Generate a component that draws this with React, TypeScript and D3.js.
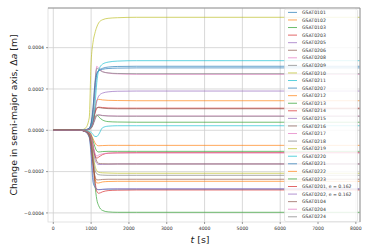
import { useEffect, useRef } from 'react';
import * as d3 from 'd3';

// sample times [s]
const times = [0, 700, 850, 950, 1000, 1050, 1100, 1150, 1200, 1300, 1450, 1700, 2200, 8110];

// satellite names in legend order
const names = [
  'GSAT0101', 'GSAT0102', 'GSAT0103', 'GSAT0203', 'GSAT0205', 'GSAT0206', 'GSAT0208',
  'GSAT0209', 'GSAT0210', 'GSAT0211', 'GSAT0207', 'GSAT0212', 'GSAT0213', 'GSAT0214',
  'GSAT0215', 'GSAT0216', 'GSAT0217', 'GSAT0218', 'GSAT0219', 'GSAT0220', 'GSAT0221',
  'GSAT0222', 'GSAT0223', 'GSAT0201, e = 0.162', 'GSAT0202, e = 0.162', 'GSAT0104',
  'GSAT0204', 'GSAT0224',
];

// delta a, in units of 1e-4 m, one row per satellite (same order as names)
const deltaA = [
  [0, 0, 0.02, 0.1, 0.3, 0.8, 1.8, 2.7, 2.9, 3.0, 3.06, 3.09, 3.1, 3.1],
  [0, 0, 0.02, 0.05, 0.15, 0.4, 1.0, 1.45, 1.5, 1.47, 1.45, 1.44, 1.43, 1.43],
  [0, 0, 0.02, 0.05, 0.1, 0.3, 0.6, 0.75, 0.65, 0.5, 0.42, 0.4, 0.39, 0.39],
  [0, 0, 0.02, 0.05, 0.12, 0.35, 0.8, 1.05, 1.12, 1.1, 1.08, 1.07, 1.07, 1.07],
  [0, 0, 0.02, 0.05, 0.15, 0.4, 0.9, 1.4, 1.65, 1.8, 1.86, 1.89, 1.9, 1.9],
  [0, 0, 0.02, 0.06, 0.15, 0.4, 0.85, 1.1, 1.1, 1.07, 1.05, 1.04, 1.04, 1.04],
  [0, 0, 0.03, 0.1, 0.3, 0.9, 2.0, 3.1, 3.0, 2.85, 2.77, 2.73, 2.71, 2.71],
  [0, 0, 0.03, 0.1, 0.3, 1.0, 2.3, 3.0, 2.95, 2.83, 2.78, 2.75, 2.74, 2.74],
  [0, 0, 0.1, 0.6, 3.3, 4.25, 4.7, 5.0, 5.2, 5.35, 5.42, 5.45, 5.47, 5.47],
  [0, 0, 0.02, 0.08, 0.2, 0.5, 1.2, 2.3, 2.9, 3.2, 3.3, 3.35, 3.37, 3.37],
  [0, 0, 0.02, 0.1, 0.35, 1.1, 2.2, 2.75, 2.88, 2.95, 2.99, 3.01, 3.02, 3.02],
  [0, 0, -0.03, -0.1, -0.2, -0.4, -0.6, -0.72, -0.75, -0.74, -0.73, -0.73, -0.73, -0.73],
  [0, 0, -0.03, -0.1, -0.25, -0.5, -0.8, -1.0, -1.05, -1.03, -1.02, -1.02, -1.02, -1.02],
  [0, 0, -0.05, -0.15, -0.35, -0.8, -1.2, -1.35, -1.3, -1.18, -1.11, -1.09, -1.08, -1.08],
  [0, 0, -0.05, -0.15, -0.4, -0.9, -1.4, -1.6, -1.66, -1.65, -1.64, -1.63, -1.63, -1.63],
  [0, 0, -0.04, -0.12, -0.3, -0.7, -1.2, -1.5, -1.6, -1.62, -1.63, -1.63, -1.63, -1.63],
  [0, 0, 0.02, 0.05, 0.12, 0.3, 0.55, 0.72, 0.75, 0.72, 0.7, 0.69, 0.69, 0.69],
  [0, 0, 0.02, 0.04, 0.1, 0.25, 0.5, 0.7, 0.74, 0.71, 0.69, 0.68, 0.68, 0.68],
  [0, 0, -0.05, -0.2, -0.5, -1.1, -1.7, -1.95, -2.03, -2.06, -2.07, -2.08, -2.08, -2.08],
  [0, 0, -0.02, -0.05, -0.1, -0.2, -0.3, -0.3, -0.2, 0.12, 0.2, 0.22, 0.22, 0.22],
  [0, 0, -0.08, -0.35, -1.2, -2.5, -2.75, -2.85, -2.87, -2.86, -2.85, -2.85, -2.85, -2.85],
  [0, 0, -0.05, -0.25, -0.7, -1.6, -2.3, -2.55, -2.55, -2.5, -2.48, -2.47, -2.47, -2.47],
  [0, 0, -0.05, -0.2, -0.6, -1.5, -2.6, -3.35, -3.65, -3.88, -3.95, -3.97, -3.97, -3.97],
  [0, 0, -0.05, -0.2, -0.6, -1.5, -2.4, -2.95, -3.05, -2.98, -2.92, -2.9, -2.89, -2.89],
  [0, 0, -0.08, -0.3, -1.0, -2.2, -2.7, -2.85, -2.88, -2.86, -2.84, -2.83, -2.83, -2.83],
  [0, 0, -0.05, -0.3, -0.8, -1.6, -2.2, -2.4, -2.4, -2.38, -2.37, -2.37, -2.37, -2.37],
  [0, 0, -0.04, -0.12, -0.3, -0.75, -1.1, -1.25, -1.2, -1.14, -1.11, -1.1, -1.1, -1.1],
  [0, 0, -0.05, -0.2, -0.6, -1.3, -1.9, -2.1, -2.15, -2.17, -2.18, -2.18, -2.18, -2.18],
];

const xTicks = [0, 1000, 2000, 3000, 4000, 5000, 6000, 7000, 8000];
const yTicks = [-0.0004, -0.0002, 0, 0.0002, 0.0004];

const colors = d3.schemeCategory10;
const font = 'DejaVu Sans, sans-serif';

function App() {
  const svgRef = useRef<SVGSVGElement>(null);
  const width = 366;
  const height = 252;
  const margin = { left: 48, right: 6, top: 8, bottom: 30 };

  useEffect(() => {
    if (svgRef.current === null) return;
    const svg = d3.select(svgRef.current);
    svg.selectAll('*').remove();

    const x = d3.scaleLinear().domain([-140, 8110]).range([margin.left, width - margin.right]);
    const y = d3.scaleLinear().domain([-0.000444, 0.000592]).range([height - margin.bottom, margin.top]);
    const [x0, x1] = x.range();
    const [y1, y0] = y.range();

    svg.append('defs').append('clipPath').attr('id', 'plot')
      .append('rect').attr('x', x0).attr('y', y0).attr('width', x1 - x0).attr('height', y1 - y0);

    // grid
    const grid = svg.append('g').attr('stroke', '#cfcfcf').attr('stroke-width', 0.8);
    grid.selectAll('.gx').data(xTicks).enter().append('line')
      .attr('x1', (d) => x(d)).attr('x2', (d) => x(d)).attr('y1', y0).attr('y2', y1);
    grid.selectAll('.gy').data(yTicks).enter().append('line')
      .attr('y1', (d) => y(d)).attr('y2', (d) => y(d)).attr('x1', x0).attr('x2', x1);

    // series
    const line = d3.line<number>()
      .x((_, i) => x(times[i]))
      .y((d) => y(d * 1e-4))
      .curve(d3.curveMonotoneX);
    svg.append('g').attr('clip-path', 'url(#plot)')
      .selectAll('path').data(deltaA).enter().append('path')
      .attr('d', (d) => line(d))
      .attr('fill', 'none')
      .attr('stroke', (_, i) => colors[i % 10])
      .attr('stroke-width', 0.9)
      .attr('stroke-opacity', 0.75);

    // spines
    svg.append('rect').attr('x', x0).attr('y', y0).attr('width', x1 - x0).attr('height', y1 - y0)
      .attr('fill', 'none').attr('stroke', '#dddddd').attr('stroke-width', 0.8);
    svg.append('path').attr('d', `M${x0},${y0}H${x1}V${y1}`)
      .attr('fill', 'none').attr('stroke', '#8a8a8a').attr('stroke-width', 0.9);

    // ticks
    const ax = svg.append('g').attr('font-family', font).attr('font-size', 4.6).attr('fill', '#333');
    xTicks.forEach((t) => {
      ax.append('line').attr('x1', x(t)).attr('x2', x(t)).attr('y1', y1).attr('y2', y1 + 2)
        .attr('stroke', '#555').attr('stroke-width', 0.6);
      ax.append('text').attr('x', x(t)).attr('y', y1 + 8).attr('text-anchor', 'middle').text(String(t));
    });
    yTicks.forEach((t) => {
      ax.append('line').attr('x1', x0 - 2).attr('x2', x0).attr('y1', y(t)).attr('y2', y(t))
        .attr('stroke', '#555').attr('stroke-width', 0.6);
      ax.append('text').attr('x', x0 - 4).attr('y', y(t)).attr('dy', '0.35em').attr('text-anchor', 'end')
        .text(d3.format('.4f')(t));
    });

    // axis labels
    const xl = svg.append('text').attr('x', (x0 + x1) / 2 - 4).attr('y', 243)
      .attr('text-anchor', 'middle').attr('font-family', font).attr('font-size', 9.5).attr('fill', '#222');
    xl.append('tspan').attr('font-style', 'italic').text('t');
    xl.append('tspan').text(' [s]');

    const yl = svg.append('text')
      .attr('transform', `translate(17, ${(y0 + y1) / 2}) rotate(-90)`)
      .attr('text-anchor', 'middle').attr('font-family', font).attr('font-size', 9.3).attr('fill', '#222');
    yl.append('tspan').text('Change in semi-major axis, Δ');
    yl.append('tspan').attr('font-style', 'italic').text('a');
    yl.append('tspan').text(' [m]');

    // legend
    const lg = svg.append('g');
    lg.append('rect').attr('x', 284.5).attr('y', 9).attr('width', 73).attr('height', 212.5)
      .attr('rx', 1.5).attr('fill', 'white').attr('fill-opacity', 0.85)
      .attr('stroke', '#d6d6d6').attr('stroke-width', 0.6);
    names.forEach((n, i) => {
      const ly = 12.4 + i * 7.57;
      lg.append('line').attr('x1', 288).attr('x2', 297).attr('y1', ly).attr('y2', ly)
        .attr('stroke', colors[i % 10]).attr('stroke-width', 1).attr('stroke-opacity', 0.7);
      lg.append('text').attr('x', 302).attr('y', ly).attr('dy', '0.35em')
        .attr('font-family', font).attr('font-size', 4.6).attr('fill', '#333').text(n);
    });
  }, [svgRef]);

  return (
    <svg ref={svgRef} width={width} height={height}
      style={{ position: 'absolute', left: 0, top: 0, background: 'white' }} />
  );
}

export default App;
